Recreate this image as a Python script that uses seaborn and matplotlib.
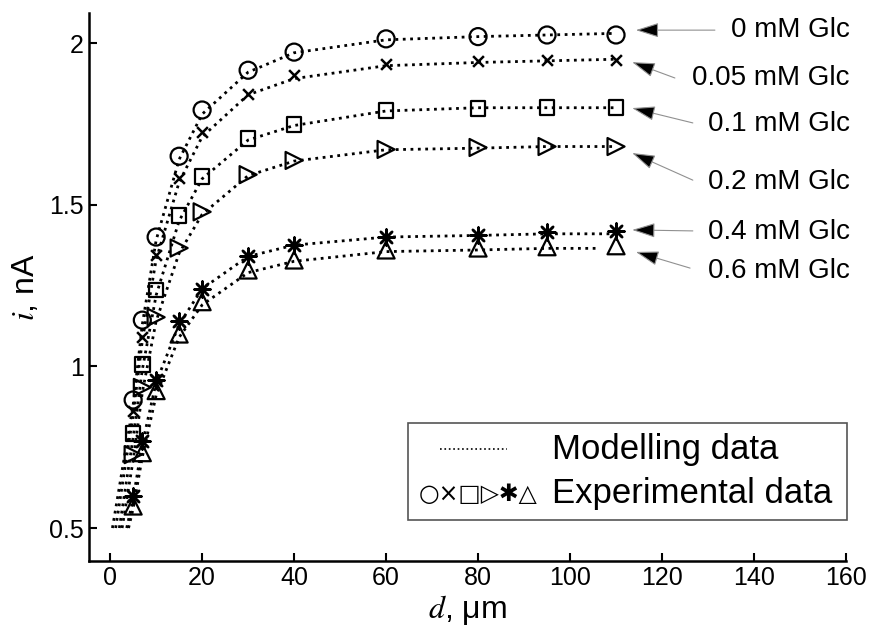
import numpy as np
import pandas as pd
import seaborn as sns
import matplotlib.pyplot as plt
from matplotlib.patches import Rectangle

# glucose concentrations and distances (um)
labels = ['0 mM Glc', '0.05 mM Glc', '0.1 mM Glc', '0.2 mM Glc', '0.4 mM Glc', '0.6 mM Glc']
markers = ['o', 'x', 's', '>', (8, 2, 0), '^']
d_exp = [5, 7, 10, 15, 20, 30, 40, 60, 80, 95, 110]

# experimental current, nA
i_0 = [0.896, 1.143, 1.400, 1.650, 1.793, 1.916, 1.972, 2.013, 2.020, 2.025, 2.025]
i_005 = [0.863, 1.090, 1.345, 1.584, 1.724, 1.842, 1.900, 1.935, 1.944, 1.947, 1.947]
i_01 = [0.792, 1.006, 1.236, 1.466, 1.587, 1.705, 1.748, 1.792, 1.798, 1.801, 1.801]
i_02 = [0.727, 0.935, 1.152, 1.366, 1.478, 1.593, 1.637, 1.671, 1.677, 1.680, 1.680]
i_04 = [0.599, 0.770, 0.957, 1.140, 1.239, 1.342, 1.376, 1.400, 1.407, 1.416, 1.419]
i_06 = [0.568, 0.733, 0.925, 1.100, 1.200, 1.298, 1.329, 1.360, 1.366, 1.370, 1.373]
i_exp = [i_0, i_005, i_01, i_02, i_04, i_06]

# modelling curves
d_model = [[0.5, 5, 7, 10, 15, 20, 30, 40, 60, 80, 95, 110],
           [1.2, 5, 7, 10, 15, 20, 30, 40, 60, 80, 95, 110],
           [2.0, 5, 7, 10, 15, 20, 30, 40, 60, 80, 95, 110],
           [2.6, 5, 7, 10, 15, 20, 30, 40, 60, 80, 95, 110],
           [3.6, 5, 7, 10, 15, 20, 30, 40, 60, 80, 95, 110],
           [4.0, 5, 7, 10, 15, 20, 30, 40, 60, 80, 95, 106]]
m_0 = [0.50, 0.88, 1.13, 1.39, 1.64, 1.78, 1.91, 1.97, 2.01, 2.02, 2.025, 2.03]
m_005 = [0.50, 0.85, 1.08, 1.33, 1.57, 1.71, 1.84, 1.89, 1.93, 1.94, 1.945, 1.95]
m_01 = [0.50, 0.78, 0.99, 1.22, 1.45, 1.58, 1.70, 1.745, 1.79, 1.80, 1.80, 1.80]
m_02 = [0.50, 0.71, 0.92, 1.14, 1.35, 1.47, 1.59, 1.635, 1.67, 1.675, 1.68, 1.68]
m_04 = [0.50, 0.59, 0.76, 0.95, 1.13, 1.24, 1.34, 1.375, 1.40, 1.405, 1.41, 1.41]
m_06 = [0.50, 0.56, 0.72, 0.91, 1.09, 1.19, 1.29, 1.325, 1.355, 1.36, 1.365, 1.365]
i_model = [m_0, m_005, m_01, m_02, m_04, m_06]

# label text positions and arrows (tail, head)
label_y = [2.040, 1.892, 1.749, 1.570, 1.415, 1.295]
arrow_tail = [(131.5, 2.040), (122.8, 1.892), (126.7, 1.753), (126.7, 1.576), (126.7, 1.419), (126.1, 1.304)]
arrow_head = [(114.3, 2.040), (113.5, 1.941), (113.5, 1.799), (113.5, 1.660), (113.5, 1.422), (114.3, 1.354)]

sns.set_style('ticks')
plt.rcParams['font.family'] = ['Liberation Sans', 'DejaVu Sans']
plt.rcParams['mathtext.fontset'] = 'stix'
plt.rcParams['text.color'] = 'black'
plt.rcParams['axes.labelcolor'] = 'black'

model_df = pd.concat([pd.DataFrame({'d': d_model[k], 'i': i_model[k], 'glc': labels[k]})
                      for k in range(len(labels))])

fig = plt.figure(figsize=(8.69, 6.25), dpi=100)
ax = fig.add_axes([0.1024, 0.1024, 0.8711, 0.8768])

sns.lineplot(data=model_df, x='d', y='i', units='glc', estimator=None, sort=False,
             color='black', linestyle=':', linewidth=2, ax=ax, legend=False)

for k in range(len(labels)):
    mk = markers[k]
    if mk == 'x':
        sns.scatterplot(x=d_exp, y=i_exp[k], marker='x', s=60, color='black',
                        linewidth=1.8, ax=ax, zorder=3)
    elif isinstance(mk, tuple):
        sns.scatterplot(x=d_exp, y=i_exp[k], marker=mk, s=130, color='black',
                        linewidth=1.8, ax=ax, zorder=3)
    else:
        sz = 110 if mk == 's' else 150
        sns.scatterplot(x=d_exp, y=i_exp[k], marker=mk, s=sz, facecolor='none',
                        edgecolor='black', linewidth=1.6, ax=ax, zorder=3)

for k in range(len(labels)):
    ax.text(160.8, label_y[k], labels[k], ha='right', va='center', fontsize=20, clip_on=False)
    ax.annotate('', xy=arrow_head[k], xytext=arrow_tail[k],
                arrowprops=dict(arrowstyle='-|>,head_length=1.1,head_width=0.35',
                                mutation_scale=13, facecolor='black', edgecolor='#909090',
                                lw=0.8, shrinkA=0, shrinkB=0))

# legend box
ax.add_patch(Rectangle((64.8, 0.525), 95.4, 0.30, facecolor='white', clip_on=False,
                       edgecolor='#555555', linewidth=1.2, zorder=4))
ax.plot([71.7, 86.3], [0.744, 0.744], color='black', linestyle=':', linewidth=1.2, zorder=5)
ax.text(96.1, 0.744, 'Modelling data', ha='left', va='center', fontsize=25, zorder=5)
ax.text(67.0, 0.606, '○×□▷✱△', ha='left', va='center', fontsize=17,
        family=['DejaVu Sans'], zorder=5)
ax.text(96.1, 0.606, 'Experimental data', ha='left', va='center', fontsize=25, zorder=5)

ax.set_xlim(-4.6, 160)
ax.set_ylim(0.398, 2.093)
ax.set_xticks(np.arange(0, 161, 20))
ax.set_yticks([0.5, 1, 1.5, 2])
ax.set_yticklabels(['0.5', '1', '1.5', '2'])
ax.tick_params(direction='in', length=6, width=1.5, labelsize=18, colors='black')
for side in ['left', 'bottom']:
    ax.spines[side].set_linewidth(1.8)
    ax.spines[side].set_color('black')
sns.despine(ax=ax)

ax.set_xlabel('$d$, μm', fontsize=23, labelpad=2)
ax.set_ylabel('$i$, nA', fontsize=23, labelpad=6)

fig.savefig('out.png', dpi=100)
